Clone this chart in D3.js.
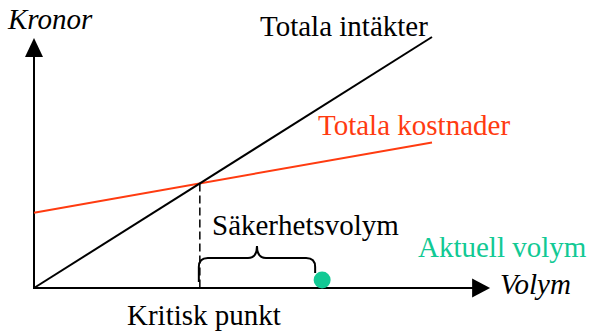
<!DOCTYPE html>
<html>
<head>
<meta charset="utf-8">
<script src="https://cdn.jsdelivr.net/npm/d3@7"></script>
</head>
<body style="margin:0; background:#fff">
<svg id="chart" width="590" height="333"></svg>
<script>
// data (volym / kronor in abstract units)
var revenueLine = [{ v: 0, k: 0 }, { v: 10, k: 10 }]       // Totala intäkter
var costLine = [{ v: 0, k: 3 }, { v: 10, k: 5.8 }]         // Totala kostnader
var actualVolume = 7.24                                     // Aktuell volym
var axisMax = { v: 11.46, k: 10 }
var labels = {
    yAxis: "Kronor",
    xAxis: "Volym",
    revenue: "Totala intäkter",
    cost: "Totala kostnader",
    breakEven: "Kritisk punkt",
    safety: "Säkerhetsvolym",
    actual: "Aktuell volym"
}

var svg = d3.select("#chart")
var x = d3.scaleLinear().domain([0, 10]).range([34, 432])
var y = d3.scaleLinear().domain([0, 10]).range([288, 37])

var red = "#ff3b10"
var green = "#12c994"

// kritisk punkt: where the two lines cross
var costSlope = (costLine[1].k - costLine[0].k) / (costLine[1].v - costLine[0].v)
var bev = costLine[0].k / (1 - costSlope)

var line = d3.line().x(function (d) { return x(d.v) }).y(function (d) { return y(d.k) })

// axes
svg.append("line")
    .attr("x1", x(0)).attr("y1", y(0))
    .attr("x2", x(0)).attr("y2", y(axisMax.k) + 18)
    .attr("stroke", "black").attr("stroke-width", 2)
svg.append("path")
    .attr("d", "M" + x(0) + "," + (y(axisMax.k) + 1) + "l-9,19h18z")
    .attr("fill", "black")
svg.append("line")
    .attr("x1", x(0) - 1).attr("y1", y(0))
    .attr("x2", x(axisMax.v) - 16).attr("y2", y(0))
    .attr("stroke", "black").attr("stroke-width", 2)
svg.append("path")
    .attr("d", "M" + x(axisMax.v) + "," + y(0) + "l-18,-9.5v19z")
    .attr("fill", "black")

// lines
svg.append("path").attr("d", line(costLine))
    .attr("fill", "none").attr("stroke", red).attr("stroke-width", 2)
svg.append("path").attr("d", line(revenueLine))
    .attr("fill", "none").attr("stroke", "black").attr("stroke-width", 2)

// dashed drop from break-even
svg.append("line")
    .attr("x1", x(bev)).attr("y1", y(bev))
    .attr("x2", x(bev)).attr("y2", y(0))
    .attr("stroke", "black").attr("stroke-width", 1.5)
    .attr("stroke-dasharray", "8,4")

// brace between break-even and actual volume
var bx0 = x(bev) - 1, bx1 = x(actualVolume) - 7
var bm = (bx0 + bx1) / 2
var bTop = 258
var brace = "M" + bx0 + ",282 V267 Q" + bx0 + "," + bTop + " " + (bx0 + 9) + "," + bTop +
    " H" + (bm - 9) + " Q" + bm + "," + bTop + " " + bm + ",246" +
    " Q" + bm + "," + bTop + " " + (bm + 9) + "," + bTop +
    " H" + (bx1 - 9) + " Q" + bx1 + "," + bTop + " " + bx1 + ",267 V273"
svg.append("path").attr("d", brace)
    .attr("fill", "none").attr("stroke", "black").attr("stroke-width", 2)

// actual volume dot
svg.append("circle")
    .attr("cx", x(actualVolume)).attr("cy", y(0) - 8).attr("r", 8.5)
    .attr("fill", green)

// labels (default font of the page is the Times-like serif)
function label(tx, ty, str, color, italic) {
    var t = svg.append("text")
        .attr("x", tx).attr("y", ty)
        .attr("font-size", 29)
        .attr("fill", color || "black")
        .text(str)
    if (italic) t.attr("font-style", "italic")
}
label(8, 29, labels.yAxis, null, true)
label(500, 294, labels.xAxis, null, true)
label(260, 36, labels.revenue)
label(318, 135, labels.cost, red)
label(127, 325, labels.breakEven)
label(212, 235, labels.safety)
label(418, 257, labels.actual, green)
</script>
</body>
</html>
